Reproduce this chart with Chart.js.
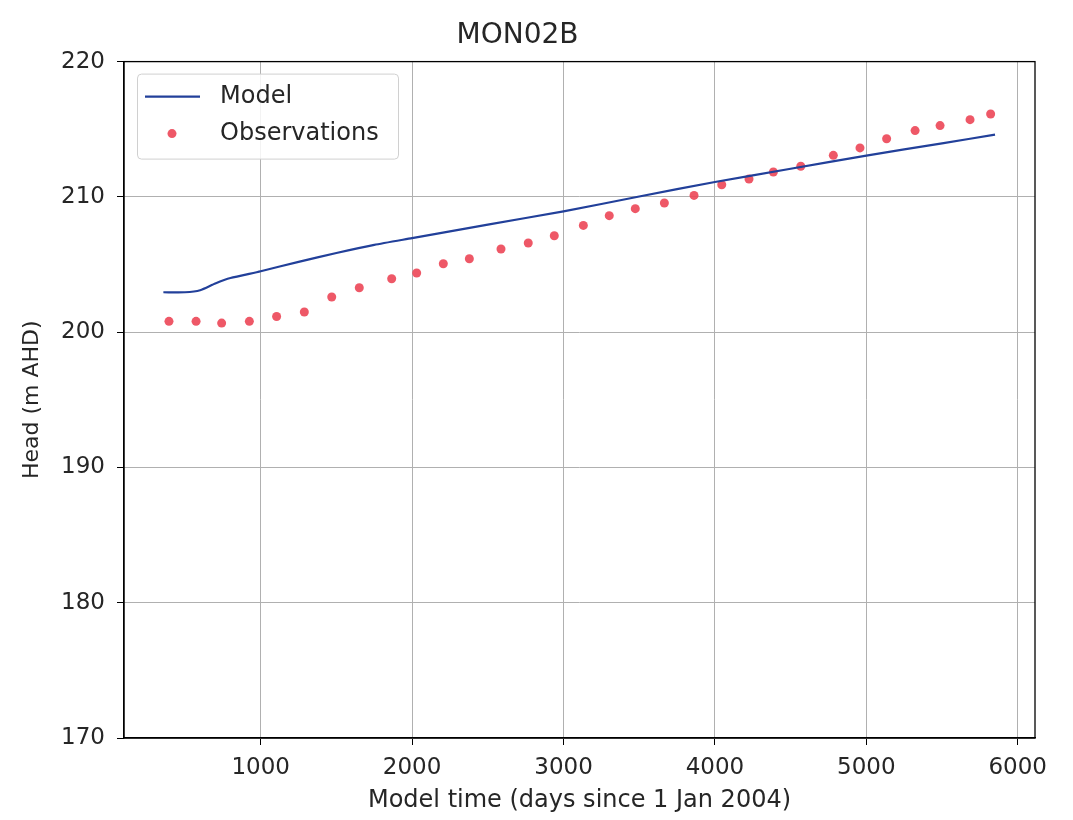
<!DOCTYPE html>
<html>
<head>
<meta charset="utf-8">
<script src="https://cdn.jsdelivr.net/npm/chart.js@4"></script>
<style>
  html, body { margin: 0; padding: 0; background: #fff; }
  #wrap { width: 1073px; height: 820px; }
</style>
</head>
<body>
<div id="wrap"><canvas id="head-chart"></canvas></div>
<script>
// Data
const modelDays = [357, 500, 600, 700, 800, 1000, 1250, 1500, 1750, 2000, 2500, 3000, 3500, 4000, 4500, 5000, 5500, 5850];
const modelHead = [202.95, 202.95, 203.1, 203.6, 204.0, 204.5, 205.2, 205.85, 206.45, 206.95, 207.95, 208.93, 210.03, 211.1, 212.08, 213.05, 213.96, 214.6];

const obsDays = [394, 573, 742, 925, 1105, 1288, 1469, 1651, 1865, 2030, 2206, 2378, 2587, 2767, 2939, 3131, 3302, 3474, 3666, 3862, 4045, 4225, 4386, 4567, 4782, 4958, 5134, 5322, 5487, 5685, 5821];
const obsHead = [200.8, 200.8, 200.67, 200.8, 201.16, 201.49, 202.6, 203.28, 203.95, 204.37, 205.06, 205.43, 206.15, 206.59, 207.13, 207.89, 208.61, 209.13, 209.55, 210.11, 210.9, 211.32, 211.84, 212.26, 213.07, 213.62, 214.3, 214.9, 215.27, 215.71, 216.13];

const xTicks = [1000, 2000, 3000, 4000, 5000, 6000];
const yTicks = [170, 180, 190, 200, 210, 220];

const FONT = "'DejaVu Sans', sans-serif";
const lineColor = '#22409a';
const dotColor = 'rgba(236, 70, 86, 0.9)';

function toPoints(xs, ys) {
    return xs.map((x, i) => ({ x: x, y: ys[i] }));
}

// black frame on all four sides, like matplotlib spines
const framePlugin = {
    id: 'frame',
    afterDraw(chart) {
        const a = chart.chartArea;
        const ctx = chart.ctx;
        ctx.save();
        ctx.strokeStyle = '#000';
        ctx.lineWidth = 1.3;
        ctx.strokeRect(a.left, a.top, a.right - a.left, a.bottom - a.top);
        ctx.restore();
    }
};

// legend box inside the plot, top left
const legendPlugin = {
    id: 'innerLegend',
    afterDraw(chart) {
        const ctx = chart.ctx;
        const a = chart.chartArea;
        const bx = a.left + 13, by = a.top + 12, bw = 261, bh = 85;
        ctx.save();
        ctx.fillStyle = 'rgba(255,255,255,0.85)';
        ctx.strokeStyle = '#d0d0d0';
        ctx.lineWidth = 1;
        ctx.beginPath();
        ctx.roundRect(bx + 0.5, by + 0.5, bw, bh, 4);
        ctx.fill();
        ctx.stroke();

        ctx.strokeStyle = lineColor;
        ctx.lineWidth = 2.2;
        ctx.beginPath();
        ctx.moveTo(bx + 8, by + 23);
        ctx.lineTo(bx + 63, by + 23);
        ctx.stroke();

        ctx.fillStyle = dotColor;
        ctx.beginPath();
        ctx.arc(bx + 35, by + 60, 4.5, 0, Math.PI * 2);
        ctx.fill();

        ctx.fillStyle = '#262626';
        ctx.font = '24px ' + FONT;
        ctx.textBaseline = 'middle';
        ctx.textAlign = 'left';
        ctx.fillText('Model', bx + 83, by + 23);
        ctx.fillText('Observations', bx + 83, by + 60);
        ctx.restore();
    }
};

const ctxEl = document.getElementById('head-chart');
new Chart(ctxEl, {
    data: {
        datasets: [{
            type: 'line',
            label: 'Model',
            data: toPoints(modelDays, modelHead),
            borderColor: lineColor,
            borderWidth: 2.2,
            pointRadius: 0,
            tension: 0.2,
            fill: false
        }, {
            type: 'scatter',
            label: 'Observations',
            data: toPoints(obsDays, obsHead),
            backgroundColor: dotColor,
            borderWidth: 0,
            pointRadius: 4.5
        }]
    },
    options: {
        responsive: true,
        maintainAspectRatio: false,
        animation: false,
        devicePixelRatio: 1,
        layout: { padding: { left: 0, right: 38, top: 0, bottom: 0 } },
        plugins: {
            legend: { display: false },
            tooltip: { enabled: false },
            title: {
                display: true,
                text: 'MON02B',
                color: '#262626',
                font: { family: FONT, size: 28, weight: 'normal' },
                padding: { top: 19, bottom: 9 }
            }
        },
        scales: {
            x: {
                type: 'linear',
                min: 97,
                max: 6114,
                afterBuildTicks(scale) {
                    scale.ticks = xTicks.map(v => ({ value: v }));
                },
                afterFit(scale) { scale.height = 82; },
                ticks: {
                    includeBounds: false,
                    color: '#262626',
                    padding: 9,
                    maxRotation: 0,
                    font: { family: FONT, size: 23 },
                    callback: v => String(v)
                },
                grid: { color: '#b0b0b0', lineWidth: 1, tickLength: 7, tickColor: '#000' },
                border: { color: '#000', width: 1.3 },
                title: {
                    display: true,
                    text: 'Model time (days since 1 Jan 2004)',
                    color: '#262626',
                    font: { family: FONT, size: 24 },
                    padding: { top: 0, bottom: 5 }
                }
            },
            y: {
                type: 'linear',
                min: 170,
                max: 220,
                afterBuildTicks(scale) {
                    scale.ticks = yTicks.map(v => ({ value: v }));
                },
                afterFit(scale) { scale.width = 124; },
                ticks: {
                    color: '#262626',
                    padding: 12,
                    font: { family: FONT, size: 23 },
                    callback: v => String(v)
                },
                grid: { color: '#b0b0b0', lineWidth: 1, tickLength: 7, tickColor: '#000' },
                border: { color: '#000', width: 1.3 },
                title: {
                    display: true,
                    text: 'Head (m AHD)',
                    color: '#262626',
                    font: { family: FONT, size: 22 },
                    padding: { top: 19, bottom: 0 }
                }
            }
        }
    },
    plugins: [framePlugin, legendPlugin]
});
</script>
</body>
</html>
